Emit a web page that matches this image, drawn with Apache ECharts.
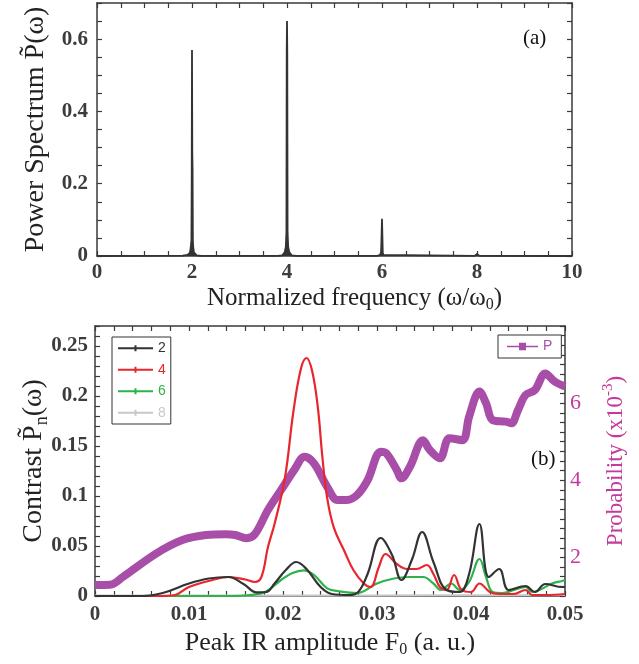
<!DOCTYPE html>
<html>
<head>
<meta charset="utf-8">
<script src="https://cdn.jsdelivr.net/npm/echarts@6/dist/echarts.min.js"></script>
<style>
html,body{margin:0;padding:0;background:#fff;}
#c{width:639px;height:664px;}
</style>
</head>
<body>
<div id="c"></div>
<script>
// ---------- Panel (a): power spectrum ----------
var freqX  = [0, 1.8, 1.9, 1.95, 1.965, 1.978, 1.988, 1.994, 2.0, 2.006, 2.012, 2.018, 2.025, 2.04, 2.06, 2.1, 2.2,
              3.8, 3.9, 3.95, 3.975, 3.988, 3.994, 4.0, 4.006, 4.012, 4.025, 4.05, 4.1, 4.2,
              5.9, 5.96, 5.98, 5.99, 6.0, 6.008, 6.016, 6.03, 6.06,
              7.95, 7.99, 8.0, 8.01, 8.05, 10];
var powerY = [0, 0.001, 0.003, 0.008, 0.015, 0.03, 0.045, 0.21, 0.57, 0.29, 0.24, 0.045, 0.025, 0.01, 0.005, 0.002, 0.0005,
              0.0005, 0.002, 0.01, 0.025, 0.066, 0.56, 0.65, 0.56, 0.066, 0.025, 0.01, 0.002, 0.0005,
              0.0005, 0.003, 0.01, 0.05, 0.103, 0.1, 0.01, 0.003, 0.0005,
              0.0005, 0.002, 0.006, 0.002, 0.0005, 0];

// ---------- Panel (b): contrast per harmonic ----------
var n2F = [0, 0.005, 0.0072, 0.01, 0.0121, 0.0142, 0.0158, 0.0172, 0.0182, 0.0191, 0.0203, 0.0214, 0.0225, 0.024, 0.0252, 0.027, 0.028, 0.029, 0.0304, 0.0316, 0.0326, 0.0337, 0.0348, 0.036, 0.0374, 0.0388, 0.0398, 0.0409, 0.0419, 0.043, 0.044, 0.0458, 0.0468, 0.0479, 0.0497, 0.05];
var n2V = [0, 0, 0.003, 0.0125, 0.0175, 0.019, 0.012, 0.0037, 0.004, 0.0125, 0.026, 0.034, 0.027, 0.009, 0.002, 0.001, 0.004, 0.022, 0.058, 0.041, 0.016, 0.036, 0.064, 0.034, 0.006, 0.004, 0.022, 0.072, 0.019, 0.027, 0.006, 0.01, 0.004, 0.012, 0.009, 0.009];

var n4F = [0, 0.007, 0.0085, 0.01, 0.0125, 0.0142, 0.016, 0.017, 0.0177, 0.0184, 0.0191, 0.0202, 0.0211, 0.0219, 0.0225, 0.0231, 0.0237, 0.0242, 0.0247, 0.0254, 0.0265, 0.0275, 0.0286, 0.0293, 0.0302, 0.0309, 0.0321, 0.0332, 0.0342, 0.0353, 0.036, 0.0367, 0.0374, 0.0382, 0.039, 0.04, 0.0409, 0.042, 0.043, 0.0445, 0.0458, 0.0465, 0.048, 0.05];
var n4V = [0, 0, 0.001, 0.009, 0.016, 0.019, 0.0165, 0.014, 0.019, 0.049, 0.072, 0.118, 0.184, 0.227, 0.238, 0.225, 0.189, 0.138, 0.098, 0.0686, 0.0455, 0.0257, 0.0125, 0.009, 0.029, 0.042, 0.032, 0.027, 0.027, 0.031, 0.022, 0.009, 0.006, 0.021, 0.006, 0.004, 0.0125, 0.004, 0.002, 0.002, 0.006, 0.001, 0.001, 0.002];

var n6F = [0, 0.0145, 0.0165, 0.0181, 0.0198, 0.021, 0.0222, 0.0233, 0.0247, 0.0258, 0.0279, 0.03, 0.0318, 0.0335, 0.0349, 0.036, 0.0368, 0.0379, 0.0388, 0.0398, 0.0409, 0.0416, 0.0423, 0.0433, 0.0446, 0.0458, 0.0465, 0.0475, 0.0486, 0.0497, 0.05];
var n6V = [0, 0, 0.001, 0.004, 0.016, 0.023, 0.0257, 0.021, 0.0076, 0.005, 0.003, 0.0125, 0.0175, 0.019, 0.019, 0.0125, 0.006, 0.0125, 0.006, 0.014, 0.037, 0.019, 0.004, 0.003, 0.006, 0.009, 0.004, 0.007, 0.0125, 0.015, 0.016];

var n8F = [0, 0.01, 0.02, 0.03, 0.04, 0.05];
var n8V = [0.0005, 0.0005, 0.0006, 0.0006, 0.0008, 0.001];

// ---------- Panel (b): probability (x10^-3) ----------
var probF = [0, 0.0016, 0.003, 0.0065, 0.0093, 0.0118, 0.0139, 0.0149, 0.0161, 0.017, 0.0184, 0.0198, 0.0212, 0.0223, 0.0233, 0.0247, 0.0258, 0.0268, 0.0279, 0.029, 0.0304, 0.031, 0.0321, 0.0326, 0.0335, 0.0349, 0.0356, 0.0367, 0.0377, 0.0391, 0.0398, 0.0409, 0.0416, 0.0423, 0.0437, 0.0443, 0.045, 0.0458, 0.0468, 0.0479, 0.0489, 0.05];
var probV = [1.285, 1.29, 1.5, 2.1, 2.45, 2.58, 2.6, 2.58, 2.5, 2.6, 3.23, 3.75, 4.27, 4.61, 4.44, 3.83, 3.49, 3.49, 3.62, 4.0, 4.74, 4.7, 4.27, 4.05, 4.35, 5.04, 4.79, 4.57, 5.09, 5.04, 5.65, 6.3, 6.0, 5.56, 5.52, 5.48, 5.82, 6.21, 6.34, 6.77, 6.56, 6.43];

var harmonicNames = ['2', '4', '6', '8'];
var harmonicColors = ['#333333', '#e8262d', '#2db34a', '#c8c8c8'];
var probName = 'P';
var probColor = '#a84ea8';
var probAxisColor = '#c4399a';
var probTickLabels = [2, 4, 6];

function pairs(xs, ys) { var out = []; for (var i = 0; i < xs.length; i++) out.push([xs[i], ys[i]]); return out; }

var SERIF = '"Liberation Serif", "Times New Roman", serif';
var SANS = '"Liberation Sans", Arial, sans-serif';
var AX = '#3a3a3a';
var labelStyle = { fontFamily: SERIF, fontWeight: 'bold', fontSize: 21, color: '#3c3c3c' };
var richSub = { s: { fontFamily: SERIF, fontSize: 16, verticalAlign: 'bottom', lineHeight: 15 } };
var richSubY = { s: { fontFamily: SERIF, fontSize: 18, verticalAlign: 'bottom', lineHeight: 16 } };

function frameAxis(extra) {
  var base = {
    axisLine: { show: true, onZero: false, lineStyle: { color: AX, width: 1.5 } },
    axisTick: { show: true, inside: true, length: 5, lineStyle: { color: AX, width: 1.2 } },
    splitLine: { show: false },
    axisLabel: { show: false },
    nameMoveOverlap: false
  };
  for (var k in extra) base[k] = extra[k];
  return base;
}

// legend icons: a short line with a small centred tick, and a line with a square
var lineIcon = 'path://M0,2L16.5,2L16.5,0L18.5,0L18.5,2L35,2L35,4L18.5,4L18.5,6L16.5,6L16.5,4L0,4Z';
var squareIcon = 'path://M0,3L12,3L12,0L19,0L19,3L31,3L31,4.4L19,4.4L19,7.4L12,7.4L12,4.4L0,4.4Z';

var chart = echarts.init(document.getElementById('c'), null, { renderer: 'canvas' });

var option = {
  animation: false,
  backgroundColor: '#ffffff',
  grid: [
    { left: 97, top: 3, width: 475, height: 253 },
    { left: 95, top: 326, width: 475, height: 270 }
  ],
  xAxis: [
    frameAxis({ type: 'value', gridIndex: 0, position: 'bottom', min: 0, max: 10, interval: 0.5,
      axisLabel: Object.assign({ show: true, margin: 6,
        formatter: function (v) { return (Math.round(v * 10) % 20 === 0) ? String(Math.round(v)) : ''; } }, labelStyle),
      name: 'Normalized frequency (ω/ω{s|0})', nameLocation: 'middle', nameGap: 27,
      nameTextStyle: { fontFamily: SERIF, fontSize: 25, color: '#222', lineHeight: 30, padding: [0, 0, 0, 40], rich: richSub } }),
    frameAxis({ type: 'value', gridIndex: 0, position: 'top', min: 0, max: 10, interval: 0.5 }),
    frameAxis({ type: 'value', gridIndex: 1, position: 'bottom', min: 0, max: 0.05, interval: 0.002,
      axisLabel: Object.assign({ show: true, margin: 8,
        formatter: function (v) { return (Math.round(v * 1000) % 10 === 0) ? String(+v.toFixed(2)) : ''; } }, labelStyle),
      name: 'Peak IR amplitude F{s|0} (a. u.)', nameLocation: 'middle', nameGap: 32,
      nameTextStyle: { fontFamily: SERIF, fontSize: 26, color: '#222', lineHeight: 30, rich: richSub } }),
    frameAxis({ type: 'value', gridIndex: 1, position: 'top', min: 0, max: 0.05, interval: 0.002 })
  ],
  yAxis: [
    frameAxis({ type: 'value', gridIndex: 0, position: 'left', min: 0, max: 0.7, interval: 0.05,
      axisLabel: Object.assign({ show: true, margin: 9,
        formatter: function (v) { return (Math.round(v * 100) % 20 === 0) ? String(+v.toFixed(2)) : ''; } }, labelStyle),
      name: 'Power Spectrum P\u0303(ω)', nameLocation: 'middle', nameGap: 45, nameRotate: 90,
      nameTextStyle: { fontFamily: SERIF, fontSize: 28, color: '#222', lineHeight: 32, rich: richSubY } }),
    frameAxis({ type: 'value', gridIndex: 0, position: 'right', min: 0, max: 0.7, interval: 0.05 }),
    frameAxis({ type: 'value', gridIndex: 1, position: 'left', min: 0, max: 0.27, interval: 0.01,
      axisLabel: Object.assign({ show: true, margin: 7,
        formatter: function (v) { return (Math.round(v * 100) % 5 === 0) ? String(+v.toFixed(2)) : ''; } }, labelStyle),
      name: 'Contrast P\u0303{s|n}(ω)', nameLocation: 'middle', nameGap: 44, nameRotate: 90,
      nameTextStyle: { fontFamily: SERIF, fontSize: 28, color: '#222', lineHeight: 34, rich: richSubY } }),
    frameAxis({ type: 'value', gridIndex: 1, position: 'right', min: 1, max: 8, interval: 0.25,
      axisLabel: { show: true, margin: 5, fontFamily: SERIF, fontSize: 22, color: probAxisColor,
        formatter: function (v) {
          for (var i = 0; i < probTickLabels.length; i++) if (Math.abs(v - probTickLabels[i]) < 1e-6) return String(probTickLabels[i]);
          return '';
        } },
      name: 'Probability (x10{u|-3})', nameLocation: 'middle', nameGap: 36, nameRotate: 90,
      nameTextStyle: { fontFamily: SERIF, fontSize: 23, color: probAxisColor, lineHeight: 30,
        rich: { u: { fontFamily: SERIF, fontSize: 15, verticalAlign: 'top', lineHeight: 14, color: probAxisColor } } } })
  ],
  legend: [
    { orient: 'vertical', left: 112, top: 337, padding: [3, 5, 3, 6], itemGap: 5, itemWidth: 35, itemHeight: 6,
      borderColor: '#333', borderWidth: 1, backgroundColor: '#fff',
      textStyle: { fontFamily: SANS, fontSize: 14, lineHeight: 16.5 },
      data: harmonicNames.map(function (n, i) {
        return { name: n, icon: lineIcon, itemStyle: { color: harmonicColors[i] }, textStyle: { color: harmonicColors[i] } };
      }) },
    { orient: 'vertical', left: 498, top: 335, padding: [3, 9, 3, 9], itemWidth: 31, itemHeight: 7.4,
      borderColor: '#333', borderWidth: 1, backgroundColor: '#fff',
      textStyle: { fontFamily: SANS, fontSize: 14, color: probColor, lineHeight: 17 },
      data: [{ name: probName, icon: squareIcon, itemStyle: { color: probColor } }] }
  ],
  graphic: [
    { type: 'text', left: 523, top: 28, style: { text: '(a)', font: '21px ' + SERIF, fill: '#111' } },
    { type: 'text', left: 531, top: 449, style: { text: '(b)', font: '21px ' + SERIF, fill: '#111' } }
  ],
  series: [
    { type: 'line', name: 'spectrum', xAxisIndex: 0, yAxisIndex: 0, symbol: 'none',
      lineStyle: { color: '#333', width: 1.8 }, areaStyle: { color: '#333', opacity: 1 },
      data: pairs(freqX, powerY) },
    { type: 'line', name: probName, xAxisIndex: 2, yAxisIndex: 3, symbol: 'none',
      smooth: 0.35, color: probColor, lineStyle: { color: probColor, width: 8 }, itemStyle: { color: probColor },
      data: pairs(probF, probV) },
    { type: 'line', name: harmonicNames[3], xAxisIndex: 2, yAxisIndex: 2, symbol: 'none', smooth: 0.4,
      color: harmonicColors[3], lineStyle: { color: harmonicColors[3], width: 2 }, data: pairs(n8F, n8V) },
    { type: 'line', name: harmonicNames[2], xAxisIndex: 2, yAxisIndex: 2, symbol: 'none', smooth: 0.4,
      color: harmonicColors[2], lineStyle: { color: harmonicColors[2], width: 2.2 }, data: pairs(n6F, n6V) },
    { type: 'line', name: harmonicNames[1], xAxisIndex: 2, yAxisIndex: 2, symbol: 'none', smooth: 0.4,
      color: harmonicColors[1], lineStyle: { color: harmonicColors[1], width: 2.2 }, data: pairs(n4F, n4V) },
    { type: 'line', name: harmonicNames[0], xAxisIndex: 2, yAxisIndex: 2, symbol: 'none', smooth: 0.4,
      color: harmonicColors[0], lineStyle: { color: harmonicColors[0], width: 2.2 }, data: pairs(n2F, n2V) }
  ]
};
chart.setOption(option);
</script>
</body>
</html>
